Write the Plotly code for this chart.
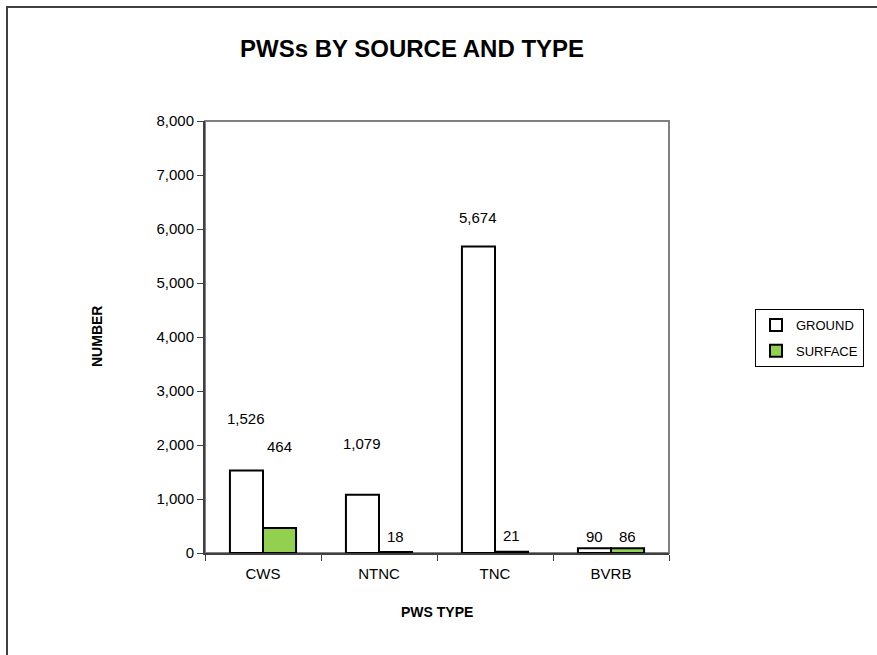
import plotly.graph_objects as go

categories = ["CWS", "NTNC", "TNC", "BVRB"]
ground = [1526, 1079, 5674, 90]
surface = [464, 18, 21, 86]
y_ticks = [0, 1000, 2000, 3000, 4000, 5000, 6000, 7000, 8000]

# how far (px) each value label sits above its bar in the original
ground_lift = [52, 51, 29, 12]
surface_lift = [81, 16, 16, 12]

FONT = "Liberation Sans, Arial, sans-serif"
W, H = 877, 655
L, R, T, B = 205, 208, 121, 102
pw, ph = W - L - R, H - T - B
BARGAP = 0.43
half_bar = pw / len(categories) * (1 - BARGAP) / 4


def px(x):
    return (x - L) / pw


def py(y):
    return (H - B - y) / ph


fig = go.Figure()
fig.add_trace(go.Bar(name="GROUND", x=categories, y=ground, legendgroup="g",
                     marker=dict(color="white", line=dict(color="black", width=2))))
fig.add_trace(go.Bar(name="SURFACE", x=categories, y=surface, legendgroup="s",
                     marker=dict(color="#92D050", line=dict(color="black", width=2))))

for vals, lifts, side in ((ground, ground_lift, -1), (surface, surface_lift, 1)):
    for cat, v, lift in zip(categories, vals, lifts):
        fig.add_annotation(x=cat, y=v, xref="x", yref="y", text=f"{v:,}",
                           showarrow=False, xanchor="center", yanchor="middle",
                           xshift=side * half_bar, yshift=lift,
                           font=dict(size=15, color="black"))

fig.update_layout(
    width=W, height=H, autosize=False, barmode="group", bargap=BARGAP, bargroupgap=0,
    margin=dict(l=L, r=R, t=T, b=B),
    paper_bgcolor="white", plot_bgcolor="white",
    font=dict(family=FONT, size=14, color="black"),
    showlegend=True,
    legend=dict(x=px(864), y=py(338), xanchor="right", yanchor="middle",
                bordercolor="black", borderwidth=1, bgcolor="white",
                font=dict(size=13), itemwidth=30, tracegroupgap=6),
)
fig.update_xaxes(showline=True, linecolor="#404040", linewidth=2,
                 ticks="outside", ticklen=6, tickcolor="#404040",
                 tickson="boundaries", showgrid=False, ticklabelstandoff=6,
                 tickfont=dict(size=15))
fig.update_yaxes(range=[0, 8000], tickvals=y_ticks, tickformat=",",
                 showline=True, linecolor="#404040", linewidth=2,
                 ticks="outside", ticklen=6, tickcolor="#404040",
                 showgrid=False, zeroline=False, tickfont=dict(size=15))

# plot-area border (top/right in grey) and outer chart frame
fig.add_shape(type="rect", xref="paper", yref="paper", x0=0, x1=1, y0=0, y1=1,
              line=dict(color="#808080", width=2), layer="below")
fig.add_shape(type="rect", xref="paper", yref="paper",
              x0=px(7), x1=px(900), y0=py(7), y1=py(680),
              line=dict(color="#404040", width=2))

fig.add_annotation(text="<b>PWSs BY SOURCE AND TYPE</b>", xref="paper", yref="paper",
                   x=px(412), y=py(49), xanchor="center", yanchor="middle",
                   showarrow=False, font=dict(size=24))
fig.add_annotation(text="<b>NUMBER</b>", xref="paper", yref="paper",
                   x=px(97), y=py(337), xanchor="center", yanchor="middle",
                   showarrow=False, textangle=-90, font=dict(size=14))
fig.add_annotation(text="<b>PWS TYPE</b>", xref="paper", yref="paper",
                   x=px(437), y=py(612), xanchor="center", yanchor="middle",
                   showarrow=False, font=dict(size=14))

fig.write_html("out.html", config={"responsive": False, "displayModeBar": False},
               post_script="document.body.style.margin='0';"
                           "document.body.style.overflow='hidden';"
                           "var gd=document.getElementById('{plot_id}');"
                           "Plotly.relayout(gd,{width:877,height:655});")
